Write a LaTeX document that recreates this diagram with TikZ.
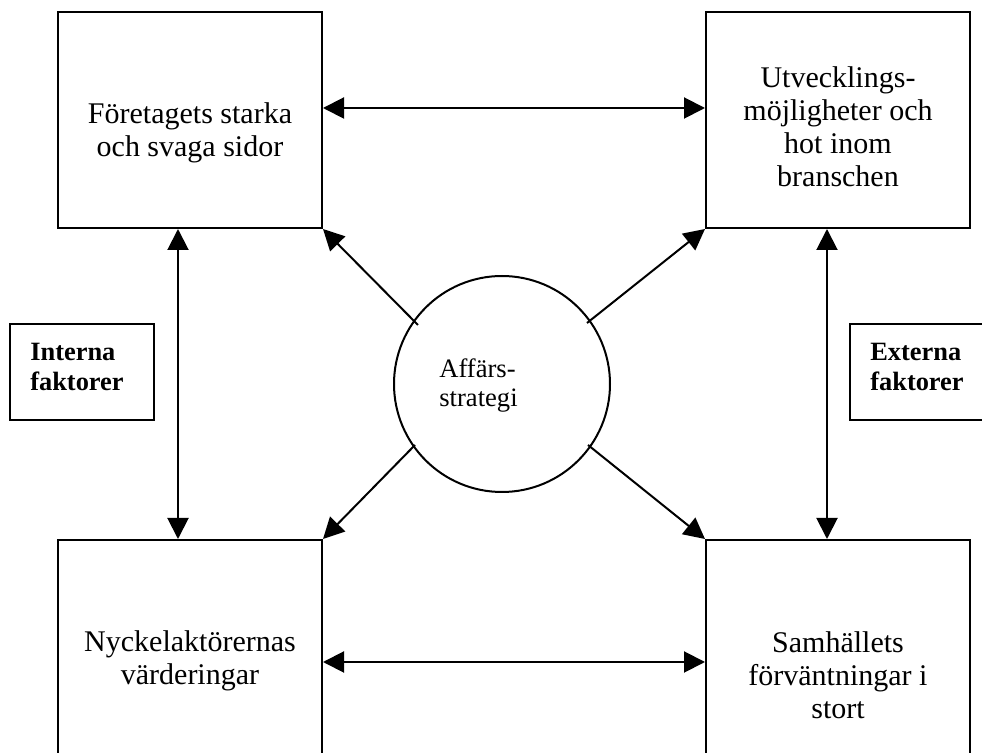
\documentclass[tikz,border=0pt]{standalone}
\usepackage{fontspec}
\setmainfont{Liberation Serif}
\usetikzlibrary{arrows.meta}
\begin{document}
\begin{tikzpicture}[x=0.5pt,y=-0.5pt,
  box/.style={draw, line width=1pt, rectangle, minimum width=132pt, minimum height=108pt, inner sep=0pt},
  sidebox/.style={draw, line width=1pt, rectangle, minimum width=72pt, minimum height=48pt, inner sep=0pt},
  bigtxt/.style={font=\fontsize{15pt}{16.5pt}\selectfont, align=center, inner sep=0pt},
  sidetxt/.style={font=\fontsize{13.2pt}{15pt}\selectfont\bfseries, align=left, inner sep=0pt},
  circtxt/.style={font=\fontsize{13.3pt}{14.5pt}\selectfont, align=left, inner sep=0pt},
  arr/.style={line width=1pt, -{Triangle[length=10.5pt,width=10.5pt]}},
  darr/.style={line width=1pt, {Triangle[length=10.5pt,width=10.5pt]}-{Triangle[length=10.5pt,width=10.5pt]}},
]
\useasboundingbox (0,0) rectangle (982,753);
\clip (0,0) rectangle (982,753);

% boxes
\node[box] (tl) at (190,120) {};
\node[box] (tr) at (838,120) {};
\node[box] (bl) at (190,648) {};
\node[box] (br) at (838,648) {};
\node[sidebox] (ib) at (82,372) {};
\node[sidebox] (eb) at (922,372) {};
\node[draw, circle, line width=1pt, minimum size=108pt, inner sep=0pt] (c) at (502,384) {};

% texts
\node[bigtxt] (tltxt) at (190,133) {Företagets starka\\och svaga sidor};
\node[bigtxt] (trtxt) at (838,126.5) {Utvecklings-\\möjligheter och\\hot inom\\branschen};
\node[bigtxt] (bltxt) at (190,661) {Nyckelaktörernas\\värderingar};
\node[bigtxt] (brtxt) at (838,675) {Samhällets\\förväntningar i\\stort};
\node[sidetxt] (ibtxt) at (77,367) {Interna\\faktorer};
\node[sidetxt] (ebtxt) at (917,367) {Externa\\faktorer};
\node[circtxt] (ctxt) at (478.5,386) {Affärs-\\strategi};

% start points of diagonal connectors
\coordinate (c1) at (418,325);
\coordinate (c2) at (587,323);
\coordinate (c3) at (415,445);
\coordinate (c4) at (588,445);

% connectors
\draw[darr] ([yshift=6pt]tl.east) -- ([yshift=6pt]tr.west);
\draw[darr] ([yshift=-7pt]bl.east) -- ([yshift=-7pt]br.west);
\draw[darr] ([xshift=-6pt]tl.south) -- ([xshift=-6pt]bl.north);
\draw[darr] ([xshift=-5.5pt]tr.south) -- ([xshift=-5.5pt]br.north);
\draw[arr] (c1) -- (tl.south east);
\draw[arr] (c2) -- (tr.south west);
\draw[arr] (c3) -- (bl.north east);
\draw[arr] (c4) -- (br.north west);
\end{tikzpicture}
\end{document}
